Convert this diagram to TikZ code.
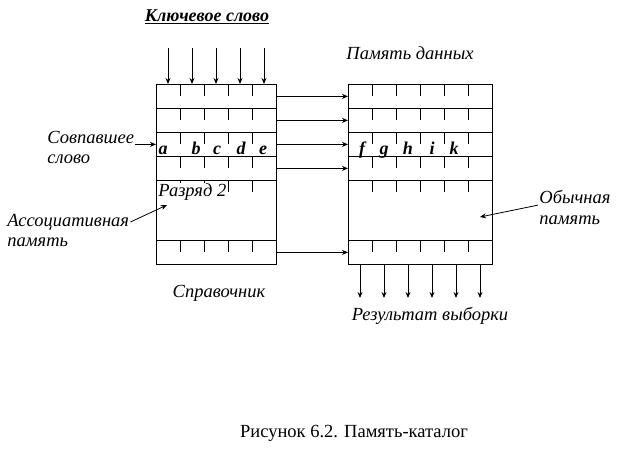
\documentclass[tikz,border=0pt]{standalone}
\usepackage{fontspec}
\setmainfont{Liberation Serif}
\usetikzlibrary{positioning,arrows.meta}
\begin{document}
\begin{tikzpicture}[x=1pt,y=-1pt,line width=0.8pt,>={Stealth[length=6pt,width=5pt]},
    lbl/.style={font=\itshape\fontsize{18.5}{20}\selectfont,inner sep=1pt},
    bi/.style={font=\bfseries\itshape\fontsize{18}{20}\selectfont,inner sep=0pt},
    cell/.style={draw,inner sep=0pt,anchor=north west,minimum height=#1}]
    \useasboundingbox (0,0) rectangle (624,452);
    % строки справочника и памяти данных
    \foreach \n/\t/\h in {1/84/24,2/108/24,3/132/24,4/156/24,5/180/60,6/240/24}{
        \node[cell=\h pt,minimum width=120pt] (l\n) at (156,\t) {};
        \node[cell=\h pt,minimum width=144pt] (r\n) at (348,\t) {};
        \foreach \i in {1,...,4}\draw ([xshift=24*\i pt]l\n.north west)--++(0,12);
        \foreach \i in {1,...,5}\draw ([xshift=24*\i pt]r\n.north west)--++(0,12);
    }
    \foreach \n in {1,2,3,4,6}\draw[->] (l\n.east)--(r\n.west);
    \foreach \i in {0,...,4}{\coordinate (k\i) at (168+24*\i,48); \draw[->] (k\i)--(k\i |- l1.north);}
    \foreach \i in {0,...,5}{\coordinate (o\i) at (360+24*\i,298); \draw[->] (o\i |- r6.south)--(o\i);}
    \foreach \c/\x in {a/163,b/196,c/217,d/241,e/263,f/362,g/384,h/408,i/432,k/454}\node[bi,anchor=base] (\c) at (\x,154) {\c};
    \node[lbl,fill=white,anchor=west] (razr) at (157,192) {Разряд 2};
    \node[font=\bfseries\itshape\fontsize{18}{20}\selectfont] (key) at (207,17) {\underline{Ключевое слово}};
    \node[lbl] (dan) at (410,53) {Память данных};
    \node[lbl] (sprav) at (219,293) {Справочник};
    \node[lbl] (rez) at (430,316) {Результат выборки};
    \node[lbl,anchor=west] (sovp1) at (46,137) {Совпавшее};
    \node[lbl,anchor=west] (sovp2) at (46,159) {слово};
    \node[lbl,anchor=west] (ass1) at (6,222) {Ассоциативная};
    \node[lbl,anchor=west] (ass2) at (6,242) {память};
    \node[lbl,anchor=west] (ob1) at (538,197) {Обычная};
    \node[lbl,anchor=west] (ob2) at (538,220) {память};
    \coordinate (ap) at (167,205);
    \coordinate (op) at (480,217);
    \draw[->] (sovp1.east |- l3.west)--(l3.west);
    \draw[->] (ass1.east)--(ap);
    \draw[->] (ob1.south west)--(op);
    \node[font=\fontsize{18.5}{20}\selectfont] (cap) at (354,433) {Рисунок 6.2. Память-каталог};
\end{tikzpicture}
\end{document}
